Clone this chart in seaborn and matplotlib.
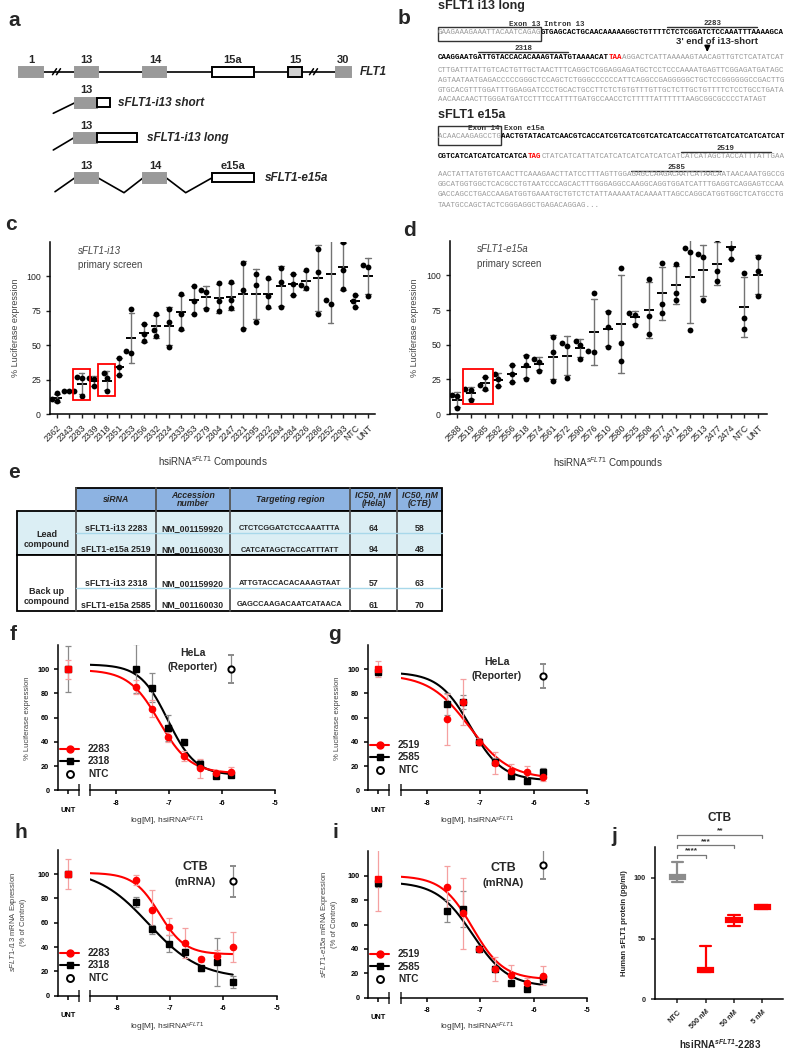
import numpy as np
import pandas as pd
import matplotlib
matplotlib.use('Agg')
import matplotlib.pyplot as plt
import seaborn as sns
from matplotlib.patches import Rectangle
from matplotlib.lines import Line2D

# ---------------- data ----------------
# c: sFLT1-i13 primary screen, three replicates per compound (% luciferase)
c_names = ['2362', '2343', '2283', '2339', '2318', '2351', '2253', '2256', '2332', '2324',
           '2333', '2353', '2279', '2304', '2247', '2321', '2295', '2322', '2294', '2284',
           '2326', '2286', '2252', '2293', 'NTC', 'UNT']
c_rep1 = [15, 17, 27, 26.5, 30, 41, 76, 65.5, 73, 76, 87, 93, 90, 95.5, 96, 110, 101.5, 99,
          106, 102, 104.5, 120, 143, 125, 86.5, 108.5]
c_rep2 = [11, 17, 26, 25.5, 26, 34.5, 46, 58, 61, 67, 73, 82, 89, 82, 83, 90, 94, 86, 96,
          94.5, 94, 103.5, 83, 105, 82, 107]
c_rep3 = [9.5, 16.5, 13, 20, 17, 28, 44, 53, 57, 49, 61.5, 73, 76, 75, 77, 61.5, 67, 77.5,
          77.5, 86.5, 91.5, 72.5, 80, 91, 78, 85.5]

# d: sFLT1-e15a primary screen
d_names = ['2588', '2519', '2585', '2582', '2556', '2518', '2574', '2561', '2572', '2590',
           '2576', '2510', '2580', '2525', '2508', '2577', '2471', '2528', '2513', '2477',
           '2474', 'NTC', 'UNT']
d_rep1 = [13.5, 18, 27, 29, 35, 41.5, 40, 55.5, 51.5, 52.5, 87, 73.5, 105, 73, 97.5, 109,
          108.5, 119.5, 115.5, 126, 130, 102, 113]
d_rep2 = [13, 17, 21, 25.5, 29, 35.5, 37.5, 44.5, 49, 49.5, 45.5, 63, 51, 71.5, 70.5, 79.5,
          87.5, 117, 113, 103.5, 119.5, 69, 103.5]
d_rep3 = [4, 10, 18, 20, 23, 25, 31, 24, 26, 40, 45, 48.5, 38.5, 64.5, 57.5, 73, 82.5, 60.5,
          82.5, 96, 112, 61, 85]

# e: table
tab_header = ['siRNA', 'Accession\nnumber', 'Targeting region', 'IC50, nM\n(Hela)', 'IC50, nM\n(CTB)']
tab_groups = ['Lead\ncompound', 'Back up\ncompound']
tab_sirna = ['sFLT1-i13 2283', 'sFLT1-e15a 2519', 'sFLT1-i13 2318', 'sFLT1-e15a 2585']
tab_acc = ['NM_001159920', 'NM_001160030', 'NM_001159920', 'NM_001160030']
tab_target = ['CTCTCGGATCTCCAAATTTA', 'CATCATAGCTACCATTTATT', 'ATTGTACCACACAAAGTAAT',
              'GAGCCAAGACAATCATAACA']
tab_ic50_hela = [64, 94, 57, 61]
tab_ic50_ctb = [58, 48, 63, 70]

# f-i: dose response, 2-fold dilutions (nM), mean and SD
conc_nM = [23.4, 46.9, 93.8, 187.5, 375, 750, 1500]

f_2283 = [85.4, 67.3, 44.2, 28.6, 18.1, 14.6, 15.1]
f_2283_sd = [6, 7, 4, 4, 8, 2, 4]
f_2318 = [100.5, 84.6, 51.6, 39.6, 22, 12.1, 12.6]
f_2318_sd = [20, 12, 11, 2, 3, 1, 2]
f_unt = [100, 100]
f_unt_sd = [8, 19]
f_ntc = [100, 11.6]
f_fit_2283 = [99.5, 14, -7.19, 1.5]      # top, bottom, logIC50, hill
f_fit_2318 = [104, 12.5, -7.03, 1.65]

g_2519 = [58.5, 73, 40, 22.3, 15.9, 15.4, 11.3]
g_2519_sd = [21, 19, 3, 9, 6, 5, 4]
g_2585 = [71.3, 72.8, 40, 23.6, 11.5, 7.5, 15.2]
g_2585_sd = [9, 6, 2, 3, 2, 2, 3]
g_unt = [100, 98]
g_unt_sd = [6.5, 3]
g_ntc = [94.5, 10]
g_fit_2519 = [95.5, 9.5, -7.21, 1.15]
g_fit_2585 = [97.5, 8, -7.19, 1.45]

h_2283 = [95.1, 70.1, 56.7, 43.3, 29.9, 32.6, 40]
h_2283_sd = [4, 17, 7, 12.5, 2, 5, 12]
h_2318 = [77.3, 54.5, 42.7, 36.2, 22.7, 27.7, 11.2]
h_2318_sd = [4, 4, 7, 2, 2, 20, 5]
h_unt = [100, 100]
h_unt_sd = [12, 2]
h_ntc = [94, 13]
h_fit_2283 = [101, 34, -7.2, 1.8]
h_fit_2318 = [104, 14, -7.4, 0.9]

i_2519 = [90.7, 69.3, 40, 23.6, 18.6, 11.8, 18.1]
i_2519_sd = [17, 29, 2, 10, 8, 4, 8]
i_2585 = [71.5, 72.9, 40, 23.6, 11.8, 7.4, 15.3]
i_2585_sd = [9, 15, 2, 2, 2, 2, 3]
i_unt = [97, 94]
i_unt_sd = [26, 3]
i_ntc = [109, 12]
i_fit_2519 = [100, 15, -7.15, 1.5]
i_fit_2585 = [95, 9, -7.15, 1.3]

# j: human sFLT1 protein (pg/ml), box summary
j_labels = ['NTC', '500 nM', '50 nM', '5 nM']
j_min = [96.7, 22.3, 59.9, 74.2]
j_q1 = [98.9, 22.6, 63.5, 74.5]
j_med = [100, 24, 65, 76]
j_q3 = [101.9, 25.5, 66.8, 77.4]
j_max = [112.9, 43.9, 69.5, 77.7]
j_colors = ['#8c8c8c', 'red', 'red', 'red']

# ---------------- style ----------------
sns.set_style('ticks')
plt.rcParams['font.family'] = ['Liberation Sans', 'DejaVu Sans']
plt.rcParams['mathtext.fontset'] = 'custom'
plt.rcParams['mathtext.rm'] = 'Liberation Sans'
plt.rcParams['mathtext.it'] = 'Liberation Sans:italic'
plt.rcParams['mathtext.bf'] = 'Liberation Sans:bold'
plt.rcParams['mathtext.bfit'] = 'Liberation Sans:italic:bold'
plt.rcParams['axes.linewidth'] = 1.1
plt.rcParams['axes.edgecolor'] = 'black'
plt.rcParams['axes.unicode_minus'] = False

W, H = 788, 1050
fig = plt.figure(figsize=(W / 100, H / 100), dpi=100)


def box(l, t, r, b):
    return [l / W, 1 - b / H, (r - l) / W, (b - t) / H]


ov = fig.add_axes([0, 0, 1, 1], zorder=10)
ov.set_xlim(0, W)
ov.set_ylim(H, 0)
ov.axis('off')

for lab, x, y in [('a', 8, 20), ('b', 398, 18), ('c', 5, 225), ('d', 403, 231), ('e', 8, 473),
                  ('f', 10, 635), ('g', 328, 635), ('h', 15, 833), ('i', 333, 833), ('j', 611, 837)]:
    ov.text(x, y, lab, fontsize=15, fontweight='bold', ha='left', va='center')

# ---------------- a: gene schematic ----------------
EXON = '#9a9a9a'


def exon(x0, x1, y, fc=EXON, ec=EXON, hh=10):
    ov.add_patch(Rectangle((x0, y - hh / 2), x1 - x0, hh, fc=fc, ec=ec, lw=1.4, zorder=3))


y1 = 71.7
ov.plot([42.7, 335.7], [y1, y1], color='k', lw=1.2)
for bx in (55, 59, 312, 316):
    ov.plot([bx - 2.5, bx + 1.5], [y1 + 3, y1 - 3], color='k', lw=1.1)
exon(19.3, 42.7, y1)
exon(75, 97.7, y1)
exon(143.3, 166, y1)
exon(212.3, 254.3, y1, fc='white', ec='k')
exon(288.3, 302.3, y1, fc='#d0d0d0', ec='k')
exon(335.7, 350.7, y1)
for s, x in [('1', 31.7), ('13', 86), ('14', 155), ('15a', 233), ('15', 295), ('30', 343.3)]:
    ov.text(x, 60, s, fontsize=8, fontweight='bold', ha='center', va='center')
ov.text(360, y1, 'FLT1', fontsize=8.5, fontweight='bold', style='italic', va='center')

y2 = 102.7
ov.plot([53.3, 75], [113.3, y2], color='k', lw=1.2)
exon(75, 97.3, y2)
exon(97.3, 110, y2, fc='white', ec='k', hh=9)
ov.text(86, 90, '13', fontsize=8, fontweight='bold', ha='center', va='center')
ov.text(118.3, y2, 'sFLT1-i13 short', fontsize=8.5, fontweight='bold', style='italic', va='center')

y3 = 137.7
ov.plot([53.3, 74], [150, y3], color='k', lw=1.2)
exon(74, 96.7, y3)
exon(97.3, 137.3, y3, fc='white', ec='k', hh=9)
ov.text(86, 126, '13', fontsize=8, fontweight='bold', ha='center', va='center')
ov.text(146.7, y3, 'sFLT1-i13 long', fontsize=8.5, fontweight='bold', style='italic', va='center')

y4 = 177.7
ov.plot([55, 75], [191.7, y4], color='k', lw=1.2)
ov.plot([97.7, 124, 143.3], [y4, 192.7, y4], color='k', lw=1.2)
ov.plot([166, 185.7, 212.3], [y4, 192.7, y4], color='k', lw=1.2)
exon(75, 97.7, y4)
exon(143.3, 166, y4)
exon(212.3, 254.3, y4, fc='white', ec='k', hh=9)
for s, x in [('13', 86), ('14', 155), ('e15a', 233.3)]:
    ov.text(x, 166, s, fontsize=8, fontweight='bold', ha='center', va='center')
ov.text(265, y4, 'sFLT1-e15a', fontsize=8.5, fontweight='bold', style='italic', va='center')

# ---------------- b: sequences ----------------
SX = 437.7
CW = 0.6 * 5.4 * 100 / 72
SEQ_STYLE = {'g': dict(color='#9a9a9a', fontweight='normal'),
             'k': dict(color='black', fontweight='bold'),
             'r': dict(color='red', fontweight='bold')}


def seq_line(y, segs):
    pos = 0
    for s, st in segs:
        ov.text(SX + pos * CW, y, s, family='Liberation Mono', fontsize=5.4, ha='left',
                va='center', **SEQ_STYLE[st])
        pos += len(s)


def overline(c0, c1, y, label):
    ov.plot([SX + c0 * CW, SX + c1 * CW], [y, y], color='#333', lw=1)
    ov.text(SX + (c0 + c1) / 2 * CW, y - 3.5, label, family='Liberation Mono', fontsize=5.4,
            fontweight='bold', ha='center', va='center', color='#333')


ov.text(SX, 6, 'sFLT1 i13 long', fontsize=9, fontweight='bold', va='center')
ov.add_patch(Rectangle((SX, 27), 23 * CW, 13.5, fill=False, ec='#333', lw=1))
ov.text(SX + 23 * CW - 1, 24, 'Exon 13', family='Liberation Mono', fontsize=5.4, fontweight='bold',
        ha='right', va='center', color='#333')
ov.text(SX + 23 * CW + 3, 24, 'Intron 13', family='Liberation Mono', fontsize=5.4,
        fontweight='bold', ha='left', va='center', color='#333')
seq_line(33, [('GAAGAAAGAAATTACAATCAGAG', 'g'),
              ('GTGAGCACTGCAACAAAAAGGCTGTTTTCTCTCGGATCTCCAAATTTAAAAGCA', 'k')])
overline(51, 71, 27.3, '2283')
ov.text(716.7, 41.5, "3' end of i13-short", fontsize=6.8, fontweight='bold', ha='center', va='center')
ov.annotate('', xy=(707.3, 54.5), xytext=(707.3, 45.5),
            arrowprops=dict(arrowstyle='-|>', color='k', lw=1.2, mutation_scale=8))
seq_line(57.5, [('CAAGGAATGATTGTACCACACAAAGTAATGTAAAACAT', 'k'), ('TAA', 'r'),
                ('AGGACTCATTAAAAAGTAACAGTTGTCTCATATCAT', 'g')])
overline(9, 29, 51.7, '2318')
for y, s in [(71, 'CTTGATTTATTGTCACTGTTGCTAACTTTCAGGCTCGGAGGAGATGCTCCTCCCAAAATGAGTTCGGAGATGATAGC'),
             (80.5, 'AGTAATAATGAGACCCCCGGGCTCCAGCTCTGGGCCCCCCATTCAGGCCGAGGGGGCTGCTCCGGGGGGCCGACTTG'),
             (90, 'GTGCACGTTTGGATTTGGAGGATCCCTGCACTGCCTTCTCTGTGTTTGTTGCTCTTGCTGTTTTCTCCTGCCTGATA'),
             (99.5, 'AACAACAACTTGGGATGATCCTTTCCATTTTGATGCCAACCTCTTTTTATTTTTTAAGCGGCGCCCCTATAGT')]:
    seq_line(y, [(s, 'g')])

ov.text(SX, 115, 'sFLT1 e15a', fontsize=9, fontweight='bold', va='center')
ov.add_patch(Rectangle((SX, 126), 14 * CW, 18.5, fill=False, ec='#333', lw=1))
ov.text(SX + 14 * CW - 1, 128.5, 'Exon 14', family='Liberation Mono', fontsize=5.4,
        fontweight='bold', ha='right', va='center', color='#333')
ov.text(SX + 14 * CW + 3, 128.5, 'Exon e15a', family='Liberation Mono', fontsize=5.4,
        fontweight='bold', ha='left', va='center', color='#333')
seq_line(137, [('ACAACAAGAGCCTG', 'g'),
               ('AACTGTATACATCAACGTCACCATCGTCATCGTCATCATCACCATTGTCATCATCATCATCAT', 'k')])
seq_line(157, [('CGTCATCATCATCATCATCA', 'k'), ('TAG', 'r'),
               ('CTATCATCATTATCATCATCATCATCATCATCATCATAGCTACCATTTATTGAA', 'g')])
overline(54, 74, 151.7, '2519')
overline(43, 63, 170.7, '2585')
for y, s in [(175, 'AACTATTATGTGTCAACTTCAAAGAACTTATCCTTTAGTTGGAGAGCCAAGACAATCATAACAATAACAAATGGCCG'),
             (185, 'GGCATGGTGGCTCACGCCTGTAATCCCAGCACTTTGGGAGGCCAAGGCAGGTGGATCATTTGAGGTCAGGAGTCCAA'),
             (195, 'GACCAGCCTGACCAAGATGGTGAAATGCTGTCTCTATTAAAAATACAAAATTAGCCAGGCATGGTGGCTCATGCCTG'),
             (205.5, 'TAATGCCAGCTACTCGGGAGGCTGAGACAGGAG...')]:
    seq_line(y, [(s, 'g')])


# ---------------- c, d: primary screens ----------------
def screen(ax, names, r1, r2, r3, xlim, title):
    df = pd.DataFrame({'compound': np.tile(names, 3), 'value': np.concatenate([r1, r2, r3])})
    sns.pointplot(data=df, x='compound', y='value', order=names, errorbar='sd', color='black',
                  linestyle='none', marker='_', markersize=6.5, markeredgewidth=1.4, capsize=0.45,
                  err_kws={'color': '0.45', 'linewidth': 1.0}, ax=ax)
    sns.swarmplot(data=df, x='compound', y='value', order=names, color='black', size=4.2,
                  ax=ax, zorder=4)
    ax.set_xlim(*xlim)
    ax.set_ylim(0, 125)
    ax.set_yticks([0, 25, 50, 75, 100])
    ax.set_xticks(range(len(names)))
    ax.set_xticklabels(names, rotation=45, ha='right', rotation_mode='anchor')
    ax.tick_params(labelsize=6.3, colors='#222', length=3, width=1)
    ax.set_xlabel('')
    ax.set_ylabel('')
    ax.set_facecolor('none')
    sns.despine(ax=ax)
    ax.text(0.085, 0.95, title, transform=ax.transAxes, fontsize=7, style='italic', color='#444',
            va='center')
    ax.text(0.085, 0.865, 'primary screen', transform=ax.transAxes, fontsize=7, color='#444',
            va='center')


ax_c = fig.add_axes(box(50, 242, 375, 414))
screen(ax_c, c_names, c_rep1, c_rep2, c_rep3, (-0.54, 25.57), 'sFLT1-i13')
ax_c.add_patch(Rectangle((1.33, 10.2), 1.34, 22.4, fill=False, ec='red', lw=1.3, clip_on=False, zorder=5))
ax_c.add_patch(Rectangle((3.34, 13.1), 1.34, 23.1, fill=False, ec='red', lw=1.3, clip_on=False, zorder=5))

ax_d = fig.add_axes(box(450, 240.7, 766.7, 414))
screen(ax_d, d_names, d_rep1, d_rep2, d_rep3, (-0.53, 22.64), 'sFLT1-e15a')
ax_d.add_patch(Rectangle((0.44, 7.2), 2.15, 25.2, fill=False, ec='red', lw=1.3, clip_on=False, zorder=5))

for x in (16, 415):
    ov.text(x, 328, '% Luciferase expression', fontsize=6.5, color='#444', rotation=90,
            ha='center', va='center')
for x, y in ((213, 462), (608, 463)):
    ov.text(x, y, r'hsiRNA$^{\mathit{sFLT1}}$ Compounds', fontsize=7, color='#333',
            ha='center', va='center')

# ---------------- e: table ----------------
tab_x = [17.3, 76, 155.7, 230, 350, 396.7, 442.3]
ov.add_patch(Rectangle((76, 488.3), 366.3, 22.4, fc='#8db3e2', ec='k', lw=1.3))
ov.add_patch(Rectangle((17.3, 510.7), 425, 44.3, fc='#dbeef4', ec='k', lw=1.3))
ov.add_patch(Rectangle((17.3, 555), 425, 56, fc='white', ec='k', lw=1.3))
for x in tab_x[1:-1]:
    ov.plot([x, x], [488.3, 611], color='#555', lw=1.3)
for y in (533.3, 588.3):
    ov.plot([76, 442.3], [y, y], color='#a8d8ea', lw=1)
for k, s in enumerate(tab_header):
    ov.text((tab_x[k + 1] + tab_x[k + 2]) / 2, 499.5, s, fontsize=6.3, fontweight='bold',
            style='italic', ha='center', va='center', linespacing=1.0)
ov.text(46.7, 539.5, tab_groups[0], fontsize=6.5, fontweight='bold', ha='center', va='center')
ov.text(46.7, 596.5, tab_groups[1], fontsize=6.5, fontweight='bold', ha='center', va='center')
row_y = [528.3, 550, 583.3, 605]
for k, y in enumerate(row_y):
    cells = [tab_sirna[k], tab_acc[k], tab_target[k], str(tab_ic50_hela[k]), str(tab_ic50_ctb[k])]
    for m, s in enumerate(cells):
        ov.text((tab_x[m + 1] + tab_x[m + 2]) / 2, y, s, fontsize=5.4 if m == 2 else 6.3,
                fontweight='bold', ha='center', va='center')


# ---------------- f-i: dose response ----------------
def logistic(x, top, bottom, logic50, hill):
    return bottom + (top - bottom) / (1 + 10 ** ((x - logic50) * hill))


def bold_ticks(ax):
    for t in ax.get_xticklabels() + ax.get_yticklabels():
        t.set_fontweight('bold')


def dose(xu, xm, ytop, ybot, red, red_sd, blk, blk_sd, unt, unt_sd, ntc, fit_red, fit_blk,
         labels, leg_xy):
    axu = fig.add_axes(box(xu[0], ytop, xu[1], ybot))
    axm = fig.add_axes(box(xm[0], ytop, xm[1], ybot))
    logx = np.log10(np.array(conc_nM) * 1e-9)
    grid = np.linspace(-8.5, logx[-1], 200)
    sns.lineplot(x=grid, y=logistic(grid, *fit_blk), color='black', lw=1.5, ax=axm)
    sns.lineplot(x=grid, y=logistic(grid, *fit_red), color='red', lw=1.5, ax=axm)
    eb = dict(ms=4.5, elinewidth=0.9, capsize=2.2, capthick=0.9, zorder=3)
    axm.errorbar(logx, blk, yerr=blk_sd, fmt='s', color='black', ecolor='#8a8a8a', **eb)
    axm.errorbar(logx, red, yerr=red_sd, fmt='o', color='red', ecolor='#f5a0a0', **eb)
    axm.errorbar([logx[-1]], [ntc[0]], yerr=[ntc[1]], fmt='o', mfc='white', mec='black',
                 mew=1.4, ecolor='#8a8a8a', **eb)
    axu.errorbar([0], [unt[1]], yerr=[unt_sd[1]], fmt='s', color='black', ecolor='#8a8a8a', **eb)
    axu.errorbar([0], [unt[0]], yerr=[unt_sd[0]], fmt='s', color='red', ecolor='#f5a0a0', **eb)

    for ax in (axu, axm):
        ax.set_ylim(0, 120)
        ax.set_facecolor('none')
        ax.tick_params(labelsize=5.3, length=3, width=1.1, colors='black')
    axu.set_xlim(-1, 1.1)
    axu.set_xticks([0])
    axu.set_xticklabels(['UNT'])
    axu.set_xticks([1.1], minor=True)
    axu.set_yticks(range(0, 101, 20))
    axu.tick_params(axis='x', pad=9)
    sns.despine(ax=axu)
    axm.set_xlim(-8.5, -5)
    axm.set_xticks([-8, -7, -6, -5])
    axm.set_xticks([-8.5], minor=True)
    axm.set_yticks([])
    axm.tick_params(axis='x', pad=4)
    sns.despine(ax=axm, left=True)
    for ax in (axu, axm):
        ax.tick_params(which='minor', direction='inout', length=8, width=1.1)
        bold_ticks(ax)

    handles = [Line2D([], [], color='red', marker='o', ms=5, lw=1.5),
               Line2D([], [], color='black', marker='s', ms=5, lw=1.5),
               Line2D([], [], color='black', marker='o', ms=5, mfc='white', mew=1.4, lw=0)]
    fig.legend(handles, labels, loc='upper left', bbox_to_anchor=(leg_xy[0] / W, 1 - leg_xy[1] / H),
               frameon=False, prop={'weight': 'bold', 'size': 7.2}, handlelength=1.9,
               handletextpad=0.9, labelspacing=0.25, borderpad=0, borderaxespad=0)
    return axu, axm


dose((58.3, 79), (90, 275), 645, 790.3, f_2283, f_2283_sd, f_2318, f_2318_sd, f_unt, f_unt_sd,
     f_ntc, f_fit_2283, f_fit_2318, ['2283', '2318', 'NTC'], (60, 744))
dose((368.3, 389.3), (400.8, 586.7), 645, 790.3, g_2519, g_2519_sd, g_2585, g_2585_sd, g_unt,
     g_unt_sd, g_ntc, g_fit_2519, g_fit_2585, ['2519', '2585', 'NTC'], (370, 740))
dose((58.3, 79), (90, 276.7), 849.7, 995.7, h_2283, h_2283_sd, h_2318, h_2318_sd, h_unt, h_unt_sd,
     h_ntc, h_fit_2283, h_fit_2318, ['2283', '2318', 'NTC'], (60, 948))
dose((368.3, 389.3), (400.8, 586.7), 851.4, 997.7, i_2519, i_2519_sd, i_2585, i_2585_sd, i_unt,
     i_unt_sd, i_ntc, i_fit_2519, i_fit_2585, ['2519', '2585', 'NTC'], (370, 949))

for x, y in ((28, 718), (338, 718)):
    ov.text(x, y, '% Luciferase expression', fontsize=5.5, color='#444', rotation=90,
            ha='center', va='center')
ov.text(18, 922, '$\\mathit{sFLT1}$-$\\mathit{i13}$ mRNA Expression\n(% of Control)', fontsize=5.5,
        color='#444', rotation=90, ha='center', va='center', multialignment='center')
ov.text(328.3, 924, '$\\mathit{sFLT1}$-$\\mathit{e15a}$ mRNA Expression\n(% of Control)', fontsize=5.5,
        color='#444', rotation=90, ha='center', va='center', multialignment='center')
for x, y in ((167, 821), (476.7, 821), (167, 1027), (476.7, 1027.3)):
    ov.text(x, y, r'log[M], hsiRNA$^{\mathit{sFLT1}}$', fontsize=6, color='#333', ha='center',
            va='center')
for x, y in ((192.7, 653), (497, 662)):
    ov.text(x, y, 'HeLa', fontsize=7.5, fontweight='bold', ha='center', va='center')
    ov.text(x, y + 14, '(Reporter)', fontsize=7.5, fontweight='bold', ha='center', va='center')
for x, y in ((195, 867), (503.3, 868.3)):
    ov.text(x, y, 'CTB', fontsize=9, fontweight='bold', ha='center', va='center')
    ov.text(x, y + 15, '(mRNA)', fontsize=8, fontweight='bold', ha='center', va='center')

# ---------------- j: protein ----------------
ax_j = fig.add_axes(box(655, 847.3, 783, 999.3))
stats = [dict(whislo=j_min[k], q1=j_q1[k], med=j_med[k], q3=j_q3[k], whishi=j_max[k],
              label=j_labels[k]) for k in range(len(j_labels))]
bp = ax_j.bxp(stats, positions=range(len(stats)), widths=0.55, capwidths=0.4, patch_artist=True,
              showfliers=False)
for k, col in enumerate(j_colors):
    bp['boxes'][k].set(facecolor=col, edgecolor=col, linewidth=1.6)
    bp['medians'][k].set(color=col, linewidth=1.6)
    for part in ('whiskers', 'caps'):
        bp[part][2 * k].set(color=col, linewidth=1.6)
        bp[part][2 * k + 1].set(color=col, linewidth=1.6)
ax_j.set_xlim(-0.79, 3.73)
ax_j.set_ylim(0, 125)
ax_j.set_yticks([0, 50, 100])
ax_j.set_xticks(range(len(j_labels)))
ax_j.set_xticklabels(j_labels, rotation=45, ha='right', rotation_mode='anchor')
ax_j.tick_params(labelsize=5.3, length=3, width=1.1)
ax_j.set_facecolor('none')
sns.despine(ax=ax_j)
bold_ticks(ax_j)
for k, level, stars in [(1, 119, '****'), (2, 126.6, '***'), (3, 135.2, '**')]:
    ax_j.plot([0, 0, k, k], [level - 2.5, level, level, level - 2.5], color='#777', lw=0.9,
              clip_on=False)
    ax_j.text(k / 2, level + 0.3, stars, ha='center', va='bottom', fontsize=6, fontweight='bold',
              color='#333')
ov.text(720, 818, 'CTB', fontsize=8.5, fontweight='bold', ha='center', va='center')
ov.text(625, 923, 'Human sFLT1 protein (pg/ml)', fontsize=5.5, fontweight='bold', rotation=90,
        ha='center', va='center')
ov.text(720, 1044, r'hsiRNA$^{\mathbfit{sFLT1}}$-2283', fontsize=7, fontweight='bold',
        ha='center', va='center')

fig.savefig('out.png', dpi=100)
